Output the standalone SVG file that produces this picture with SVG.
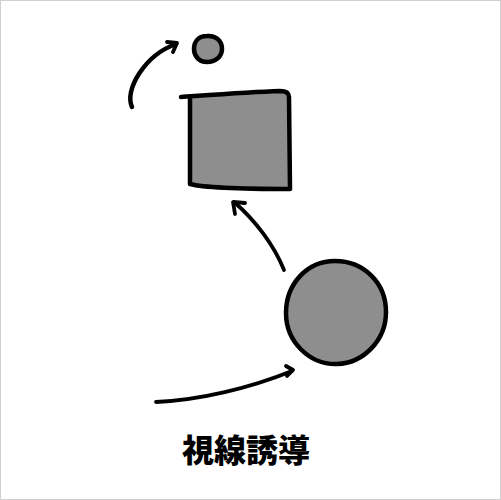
<svg xmlns="http://www.w3.org/2000/svg" width="501" height="500" viewBox="0 0 501 500">
<style>
.shape{fill:#8e8e8e;stroke:#000;stroke-width:4.5;stroke-linejoin:round;stroke-linecap:round}
.edge{fill:none;stroke:#000;stroke-width:3.8;stroke-linecap:round;stroke-linejoin:round}
.label{font-family:"Noto Sans CJK JP","Noto Sans CJK SC",sans-serif;font-weight:900;font-size:32px;fill:#000}
</style>
<rect x="0.5" y="0.5" width="500" height="499" fill="#fff" stroke="#d0d0d0"/>
<g id="small-circle">
<path class="shape" d="M207,36 C216,35 222,41 222,49 C222,57 215,62 207,62 C199,62 194,56 194,49 C194,41 199,36 207,36 Z"/>
</g>
<g id="square">
<path class="shape" d="M190,98 L190,184 C205,188 260,189 290,189 L289,97 C289,92 285,91 280,91 C250,92 210,95 181,97"/>
</g>
<g id="big-circle">
<path class="shape" d="M335,261 C364,261 386,283 386,312 C386,340 364,363 337,364 C310,365 286,342 286,313 C286,284 307,261 335,261 Z"/>
</g>
<g id="connectors">
<path class="edge" style="stroke-width:4.5" d="M132,107 C124,90 145,55 176,44"/>
<path class="edge" d="M167,42 L177,43 L173,52"/>
<path class="edge" d="M284,270 C274,245 255,220 234,202"/>
<path class="edge" d="M235,214 L233,202 L245,203"/>
<path class="edge" d="M156,402 C200,400 250,388 292,371"/>
<path class="edge" d="M286,366 L293,370 L287,376"/>
</g>
<text class="label" x="246" y="462" text-anchor="middle">視線誘導</text>
</svg>
